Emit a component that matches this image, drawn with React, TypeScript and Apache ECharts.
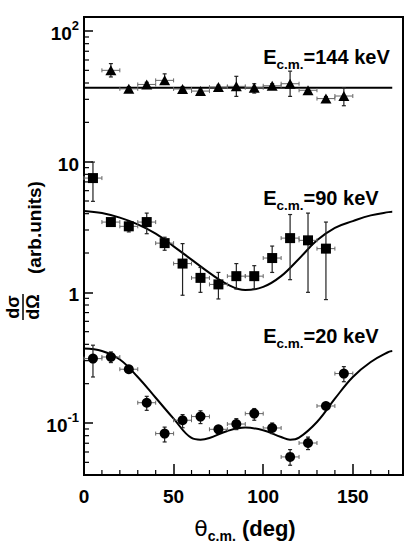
import React, { useEffect, useRef } from "react";
import * as echarts from "echarts";

// ---------- data ----------
const angleHalfWidth = 5; // horizontal error (deg)

const angles144 = [15, 25, 35, 45, 55, 65, 75, 85, 95, 105, 115, 125, 135, 145];
const values144 = [50, 36.1, 39, 41.9, 36, 34.7, 37.2, 37.7, 36.8, 38.1, 39.5, 35.2, 30.4, 31.8];
const lower144 = [44.5, 35, 37.5, 39, 33.5, 33.5, 36, 31.6, 33.5, 36.5, 31.6, 34, 29.5, 26.8];
const upper144 = [56.3, 37.5, 40.5, 47, 37.5, 36, 38.5, 45, 39.5, 39.5, 49.3, 36.5, 31.5, 36.8];
const fit144Angles = [0, 172];
const fit144Values = [36.8, 36.8];

const angles90 = [5, 15, 25, 35, 45, 55, 65, 75, 85, 95, 105, 115, 125, 135];
const values90 = [7.49, 3.45, 3.2, 3.45, 2.38, 1.66, 1.29, 1.15, 1.33, 1.33, 1.83, 2.6, 2.5, 2.16];
const lower90 = [4.97, 3.3, 2.9, 2.81, 2.1, 0.95, 1.0, 0.89, 1.06, 1.06, 1.42, 1.25, 1.0, 0.88];
const upper90 = [9.93, 3.6, 3.47, 4.04, 2.64, 2.36, 1.55, 1.42, 1.66, 1.6, 2.26, 3.94, 4.04, 3.45];
const fit90Angles = [0, 10, 20, 30, 40, 50, 60, 70, 80, 90, 100, 110, 120, 130, 140, 150, 160, 170, 172];
const fit90Values = [4.19, 4.04, 3.73, 3.31, 2.81, 2.25, 1.78, 1.41, 1.15, 1.04, 1.1, 1.33, 1.81, 2.5, 3.12, 3.51, 3.88, 4.11, 4.13];

const angles20 = [5, 15, 25, 35, 45, 55, 65, 75, 85, 95, 105, 115, 125, 135, 145];
const values20 = [0.311, 0.32, 0.258, 0.143, 0.083, 0.105, 0.112, 0.0895, 0.0982, 0.118, 0.0916, 0.055, 0.0703, 0.135, 0.239];
const lower20 = [0.225, 0.29, 0.244, 0.125, 0.0716, 0.092, 0.099, 0.084, 0.089, 0.105, 0.083, 0.0475, 0.0626, 0.128, 0.207];
const upper20 = [0.394, 0.35, 0.272, 0.16, 0.093, 0.116, 0.124, 0.095, 0.108, 0.129, 0.1, 0.0626, 0.078, 0.142, 0.27];
const fit20Angles = [0, 10, 20, 30, 40, 50, 60, 65, 70, 80, 90, 100, 110, 115, 120, 130, 140, 150, 160, 170, 172];
const fit20Values = [0.371, 0.356, 0.306, 0.225, 0.156, 0.108, 0.0768, 0.0746, 0.0768, 0.0869, 0.0922, 0.0879, 0.0782, 0.0746, 0.0773, 0.1018, 0.1535, 0.225, 0.293, 0.35, 0.356];

const xMin = 0;
const xMax = 178;
const xMajorInterval = 50;
const xMinorTicks = [10, 20, 30, 40, 60, 70, 80, 90, 110, 120, 130, 140, 160, 170];
const yMin = 0.04;
const yMax = 128;
const yMinorTicks = [
  0.05, 0.06, 0.07, 0.08, 0.09,
  0.2, 0.3, 0.4, 0.5, 0.6, 0.7, 0.8, 0.9,
  2, 3, 4, 5, 6, 7, 8, 9,
  20, 30, 40, 50, 60, 70, 80, 90,
];
const energyLabels = ["144", "90", "20"];
const energyLabelValues = [63, 5.27, 0.46]; // y position (data) of the energy labels
const energyLabelAngle = 100;

const FONT = "'Liberation Sans', Arial, Helvetica, sans-serif";

function errSeries(angles: number[], vals: number[], lo: number[], hi: number[]) {
  return {
    type: "custom",
    silent: true,
    clip: false,
    z: 2,
    data: angles.map((a, i) => [a, vals[i], lo[i], hi[i]]),
    renderItem: (params: any, api: any) => {
      const x = api.value(0);
      const y = api.value(1);
      const l = api.value(2);
      const h = api.value(3);
      const p = api.coord([x, y]);
      const pl = api.coord([x, l]);
      const ph = api.coord([x, h]);
      const pxl = api.coord([x - angleHalfWidth, y]);
      const pxr = api.coord([x + angleHalfWidth, y]);
      const vs = { stroke: "#222", lineWidth: 1.2 };
      const hs = { stroke: "#666", lineWidth: 1 };
      const cap = 2;
      return {
        type: "group",
        children: [
          { type: "line", shape: { x1: p[0], y1: pl[1], x2: p[0], y2: ph[1] }, style: vs },
          { type: "line", shape: { x1: p[0] - cap, y1: pl[1], x2: p[0] + cap, y2: pl[1] }, style: vs },
          { type: "line", shape: { x1: p[0] - cap, y1: ph[1], x2: p[0] + cap, y2: ph[1] }, style: vs },
          { type: "line", shape: { x1: pxl[0], y1: p[1], x2: pxr[0], y2: p[1] }, style: hs },
          { type: "line", shape: { x1: pxl[0], y1: p[1] - cap, x2: pxl[0], y2: p[1] + cap }, style: hs },
          { type: "line", shape: { x1: pxr[0], y1: p[1] - cap, x2: pxr[0], y2: p[1] + cap }, style: hs },
        ],
      };
    },
  };
}

export default function App() {
  const ref = useRef<HTMLDivElement>(null);
  useEffect(() => {
    document.body.style.margin = "0";
    const chart = echarts.init(ref.current!, null, { renderer: "svg" });
    const labelRich = {
      e: { fontSize: 20, fontWeight: "bold", fontFamily: FONT, color: "#000", lineHeight: 28, verticalAlign: "middle" },
      s: { fontSize: 13.5, fontWeight: "bold", fontFamily: FONT, color: "#000", lineHeight: 13, verticalAlign: "bottom" },
    };
    const markerStyle = { color: "#000", opacity: 1 };
    const option: any = {
      animation: false,
      grid: { left: 84, right: 7, top: 17, bottom: 75, show: true, borderColor: "#000", borderWidth: 2, backgroundColor: "transparent" },
      xAxis: {
        type: "value",
        min: xMin,
        max: xMax,
        interval: xMajorInterval,
        splitLine: { show: false },
        axisLine: { lineStyle: { color: "#000", width: 2 } },
        axisTick: { inside: true, length: 11, lineStyle: { color: "#000", width: 1.5 } },
        axisLabel: { showMaxLabel: false, margin: 12, fontSize: 19, fontWeight: "bold", fontFamily: FONT, color: "#000" },
      },
      yAxis: {
        type: "log",
        logBase: 10,
        min: yMin,
        max: yMax,
        splitLine: { show: false },
        axisLine: { lineStyle: { color: "#000", width: 2 } },
        axisTick: { inside: true, length: 9, lineStyle: { color: "#000", width: 1.5 } },
        axisLabel: {
          showMinLabel: false,
          showMaxLabel: false,
          margin: 5,
          formatter: (v: number) => {
            const e = Math.round(Math.log10(v));
            if (e === 0) return "{n|1}";
            if (e === 1) return "{n|10}";
            return "{n|10}{p|" + e + "}";
          },
          rich: {
            n: { fontSize: 19, fontWeight: "bold", fontFamily: FONT, color: "#000", lineHeight: 24, verticalAlign: "bottom" },
            p: { fontSize: 13, fontWeight: "bold", fontFamily: FONT, color: "#000", lineHeight: 13, verticalAlign: "top" },
          },
        },
      },
      series: [
        // minor ticks on y axis
        {
          type: "custom",
          silent: true,
          clip: false,
          z: 5,
          data: yMinorTicks.map((v) => [xMin, v]),
          renderItem: (params: any, api: any) => {
            const p = api.coord([api.value(0), api.value(1)]);
            return { type: "line", shape: { x1: p[0], y1: p[1], x2: p[0] + 5, y2: p[1] }, style: { stroke: "#000", lineWidth: 1.2 } };
          },
        },
        // minor ticks on x axis
        {
          type: "custom",
          silent: true,
          clip: false,
          z: 5,
          data: xMinorTicks.map((v) => [v, yMin]),
          renderItem: (params: any, api: any) => {
            const p = api.coord([api.value(0), api.value(1)]);
            return { type: "line", shape: { x1: p[0], y1: p[1], x2: p[0], y2: p[1] - 5 }, style: { stroke: "#000", lineWidth: 1.2 } };
          },
        },
        // fits
        {
          type: "line",
          data: fit144Angles.map((a, i) => [a, fit144Values[i]]),
          showSymbol: false,
          silent: true,
          lineStyle: { color: "#000", width: 2 },
          z: 1,
        },
        {
          type: "line",
          data: fit90Angles.map((a, i) => [a, fit90Values[i]]),
          showSymbol: false,
          smooth: 0.4,
          silent: true,
          lineStyle: { color: "#000", width: 2 },
          z: 1,
        },
        {
          type: "line",
          data: fit20Angles.map((a, i) => [a, fit20Values[i]]),
          showSymbol: false,
          smooth: 0.4,
          silent: true,
          lineStyle: { color: "#000", width: 2 },
          z: 1,
        },
        // error bars
        errSeries(angles144, values144, lower144, upper144),
        errSeries(angles90, values90, lower90, upper90),
        errSeries(angles20, values20, lower20, upper20),
        // markers
        {
          type: "scatter",
          data: angles144.map((a, i) => [a, values144[i]]),
          symbol: "triangle",
          symbolSize: [11, 10],
          itemStyle: markerStyle,
          z: 3,
        },
        {
          type: "scatter",
          data: angles90.map((a, i) => [a, values90[i]]),
          symbol: "rect",
          symbolSize: 10,
          itemStyle: markerStyle,
          z: 3,
        },
        {
          type: "scatter",
          data: angles20.map((a, i) => [a, values20[i]]),
          symbol: "circle",
          symbolSize: 10,
          itemStyle: markerStyle,
          z: 3,
        },
        // energy labels
        {
          type: "custom",
          silent: true,
          clip: false,
          z: 4,
          data: energyLabels.map((t, i) => [energyLabelAngle, energyLabelValues[i], i]),
          renderItem: (params: any, api: any) => {
            const p = api.coord([api.value(0), api.value(1)]);
            const i = api.value(2);
            return {
              type: "text",
              x: p[0],
              y: p[1],
              style: {
                text: "{e|E}{s|c.m.}{e|=" + energyLabels[i] + " keV}",
                rich: labelRich,
                align: "left",
                verticalAlign: "middle",
              },
            };
          },
        },
      ],
      graphic: [
        {
          type: "text",
          x: 245,
          y: 528,
          style: {
            text: "{t|θ}{s|c.m.}{b| (deg)}",
            align: "center",
            verticalAlign: "middle",
            rich: {
              t: { fontSize: 22, fontFamily: "'DejaVu Sans', sans-serif", color: "#000", lineHeight: 30, verticalAlign: "middle" },
              s: { fontSize: 14, fontWeight: "bold", fontFamily: FONT, color: "#000", lineHeight: 14, verticalAlign: "bottom" },
              b: { fontSize: 22, fontWeight: "bold", fontFamily: FONT, color: "#000", lineHeight: 30, verticalAlign: "middle" },
            },
          },
        },
        {
          type: "group",
          x: 23,
          y: 307,
          rotation: Math.PI / 2,
          children: [
            { type: "text", x: 0, y: -1, style: { text: "dσ", align: "center", verticalAlign: "bottom", font: "bold 18px " + FONT, fill: "#000" } },
            { type: "line", shape: { x1: -13, y1: 0, x2: 13, y2: 0 }, style: { stroke: "#000", lineWidth: 1.5 } },
            { type: "text", x: 0, y: 1, style: { text: "dΩ", align: "center", verticalAlign: "top", font: "bold 18px " + FONT, fill: "#000" } },
            { type: "text", x: 33, y: 11, style: { text: "(arb.units)", align: "left", verticalAlign: "middle", font: "bold 19px " + FONT, fill: "#000" } },
          ],
        },
      ],
    };
    chart.setOption(option);
    return () => chart.dispose();
  }, []);
  return <div ref={ref} style={{ width: 410, height: 550 }} />;
}
